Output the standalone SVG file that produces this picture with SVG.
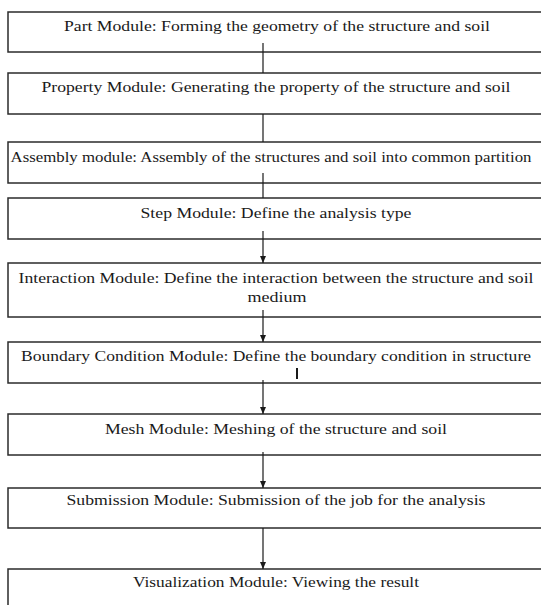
<svg xmlns="http://www.w3.org/2000/svg" width="541" height="605" viewBox="0 0 541 605">
<defs>
<style>
.box{fill:#ffffff;stroke:#2b2b2b;stroke-width:1.5}
.t{font-family:'Liberation Serif','DejaVu Serif','Times New Roman',serif;font-size:15px;fill:#1a1a1a;text-anchor:middle}
.c{stroke:#1a1a1a;stroke-width:1.2;fill:none}
</style>
<marker id="ah" markerWidth="8" markerHeight="6" refX="7" refY="3" orient="auto" markerUnits="userSpaceOnUse">
<path d="M0,0 L7,3 L0,6 Z" fill="#1a1a1a"/>
</marker>
</defs>
<rect width="541" height="605" fill="#ffffff"/>
<g id="n1"><rect class="box" x="8" y="12" width="540" height="40"/><text class="t" x="277" y="31" textLength="426" lengthAdjust="spacingAndGlyphs">Part Module: Forming the geometry of the structure and soil</text></g>
<g id="n2"><rect class="box" x="8" y="73" width="540" height="41"/><text class="t" x="276" y="92" textLength="469" lengthAdjust="spacingAndGlyphs">Property Module: Generating the property of the structure and soil</text></g>
<g id="n3"><rect class="box" x="8" y="142" width="540" height="41"/><text class="t" x="271" y="162" textLength="521" lengthAdjust="spacingAndGlyphs">Assembly module: Assembly of the structures and soil into common partition</text></g>
<g id="n4"><rect class="box" x="8" y="198" width="540" height="41"/><text class="t" x="276" y="218" textLength="271" lengthAdjust="spacingAndGlyphs">Step Module: Define the analysis type</text></g>
<g id="n5"><rect class="box" x="8" y="263" width="540" height="54"/><text class="t" x="276" y="283" textLength="515" lengthAdjust="spacingAndGlyphs">Interaction Module: Define the interaction between the structure and soil</text><text class="t" x="277" y="302" textLength="59" lengthAdjust="spacingAndGlyphs">medium</text></g>
<g id="n6"><rect class="box" x="8" y="342" width="540" height="41"/><text class="t" x="276" y="361" textLength="510" lengthAdjust="spacingAndGlyphs">Boundary Condition Module: Define the boundary condition in structure</text><line x1="297" y1="368" x2="297" y2="379" stroke="#1a1a1a" stroke-width="2"/></g>
<g id="n7"><rect class="box" x="8" y="414" width="540" height="41"/><text class="t" x="276" y="434" textLength="342" lengthAdjust="spacingAndGlyphs">Mesh Module: Meshing of the structure and soil</text></g>
<g id="n8"><rect class="box" x="8" y="488" width="540" height="40"/><text class="t" x="276" y="505" textLength="419" lengthAdjust="spacingAndGlyphs">Submission Module: Submission of the job for the analysis</text></g>
<g id="n9"><rect class="box" x="8" y="569" width="540" height="50"/><text class="t" x="276" y="587" textLength="286" lengthAdjust="spacingAndGlyphs">Visualization Module: Viewing the result</text></g>
<g id="connectors">
<line class="c" x1="263" y1="43" x2="263" y2="73"/>
<line class="c" x1="263" y1="114" x2="263" y2="142"/>
<line class="c" x1="263" y1="173" x2="263" y2="198"/>
<line class="c" x1="263" y1="231" x2="263" y2="263" marker-end="url(#ah)"/>
<line class="c" x1="263" y1="310" x2="263" y2="342" marker-end="url(#ah)"/>
<line class="c" x1="263" y1="380" x2="263" y2="414" marker-end="url(#ah)"/>
<line class="c" x1="263" y1="452" x2="263" y2="488" marker-end="url(#ah)"/>
<line class="c" x1="263" y1="528" x2="263" y2="569" marker-end="url(#ah)"/>
</g>
</svg>
